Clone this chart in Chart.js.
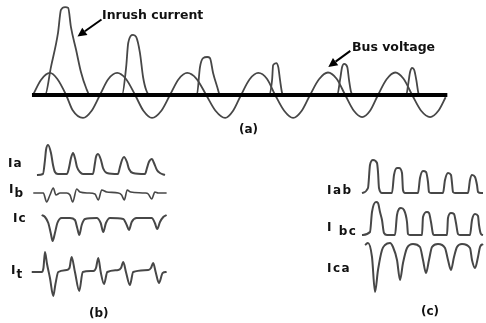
<!DOCTYPE html>
<html>
<head>
<meta charset="utf-8">
<script src="https://cdn.jsdelivr.net/npm/chart.js@4.4.1/dist/chart.umd.min.js"></script>
<style>
  body { margin: 0; background: #fff; }
  #wrap { position: relative; width: 486px; height: 323px; overflow: hidden; }
  #plot { position: absolute; left: 0; top: 0; }
  .lbl {
    position: absolute; font-family: "DejaVu Sans", Verdana, sans-serif; font-weight: bold;
    font-size: 12px; line-height: 12px; color: #111; white-space: nowrap; transform: translateY(-50%);
  }
  .sub { position: relative; top: 4px; }
</style>
</head>
<body>
<div id="wrap">
  <canvas id="plot" width="486" height="323"></canvas>
  <div class="lbl" style="left:102px;top:15px;font-size:12.5px">Inrush current</div>
  <div class="lbl" style="left:352px;top:47px;font-size:12.5px">Bus voltage</div>
  <div class="lbl" style="left:239px;top:129px">(a)</div>
  <div class="lbl" style="left:8px;top:163px;letter-spacing:1px">Ia</div>
  <div class="lbl" style="left:9px;top:189px;letter-spacing:1px">I<span class="sub">b</span></div>
  <div class="lbl" style="left:13px;top:218px;letter-spacing:1px">Ic</div>
  <div class="lbl" style="left:11px;top:270px;letter-spacing:1px">I<span class="sub">t</span></div>
  <div class="lbl" style="left:89px;top:313px">(b)</div>
  <div class="lbl" style="left:327px;top:190px;letter-spacing:1.5px">Iab</div>
  <div class="lbl" style="left:327px;top:227px;letter-spacing:1.5px">I <span class="sub">bc</span></div>
  <div class="lbl" style="left:327px;top:268px;letter-spacing:1.5px">Ica</div>
  <div class="lbl" style="left:421px;top:311px">(c)</div>
</div>
<script>
// (a) time in ms, amplitude in per-unit of the bus voltage peak
const busVoltage = [
  [0,0],[2.3,0.67],[4.9,0.98],[7.0,0.72],[9.6,0],[11.5,-0.68],[14.5,-1.02],[17.0,-0.7],
  [19.4,0],[21.8,0.7],[24.4,0.98],[26.9,0.72],[29.6,0],[32.0,-0.7],[34.5,-1.02],[37.2,-0.7],
  [39.7,0],[42.2,0.7],[44.7,0.98],[47.4,0.72],[50.2,0],[52.9,-0.7],[55.7,-1.02],[58.0,-0.7],
  [60.3,0],[62.8,0.7],[65.3,0.98],[67.8,0.72],[70.2,0],[72.8,-0.7],[75.4,-1.02],[77.9,-0.7],
  [80.3,0],[82.9,0.7],[85.5,1.0],[88.0,0.72],[90.5,0],[93.0,-0.7],[95.4,-0.98],[97.7,-0.7],
  [100.0,0],[102.5,0.7],[105.0,1.0],[107.4,0.72],[109.9,0],[112.5,-0.7],[115.1,-0.98],[117.5,-0.7],
  [119.6,-0.1]
];
const inrushCurrent = [
  [0,0],[3.5,0],[5.2,1.24],[7.25,2.76],[8.1,3.78],[9.3,3.91],[10.2,3.87],[11.0,3.02],[12.5,2.0],[13.9,1.02],[15.4,0.31],[16.5,0],
  [25.8,0],[27.0,1.24],[27.6,2.31],[29.0,2.67],[29.9,2.58],[31.0,1.87],[31.9,0.8],[32.8,0.22],[33.9,0],
  [47.5,0],[48.4,1.24],[49.3,1.64],[50.5,1.69],[51.3,1.64],[52.2,0.98],[53.4,0.36],[54.2,0],
  [68.4,0],[69.3,0.67],[69.6,1.33],[70.5,1.42],[71.1,1.24],[71.6,0.67],[72.2,0.09],[72.5,0],
  [88.2,0],[89.0,0.67],[89.6,1.24],[90.2,1.38],[91.1,1.24],[91.6,0.67],[92.2,0.13],[92.8,0],
  [108.2,0],[108.8,0.53],[109.3,1.02],[109.9,1.2],[110.5,1.11],[111.1,0.67],[111.7,0.09],[111.9,0],
  [120.0,0]
];
const zeroLine = [[-0.3,0],[120.1,0]];

// (b) phase currents of the transformer, time in ms
const iaCurrent = [
  [3.1,0],[7.8,0.1],[9.4,1.5],[10.2,2.5],[11.8,3.0],[14.1,2.2],[15.7,1.0],[17.2,0.3],[19.6,0.1],
  [26.7,0.1],[28.2,0.7],[29.8,1.7],[31.4,2.2],[32.9,1.7],[34.5,0.8],[36.8,0.3],[39.2,0.1],
  [47.0,0.1],[48.6,1.2],[49.4,1.8],[51.0,2.1],[53.3,1.5],[54.9,0.7],[58.0,0.2],
  [66.6,0.1],[68.2,0.8],[69.8,1.5],[71.3,1.8],[73.7,1.3],[75.3,0.6],[78.4,0.2],
  [87.8,0.1],[89.4,0.7],[90.9,1.3],[93.3,1.6],[94.9,1.2],[97.2,0.5],[99.6,0.2],[103.5,0]
];
const ibCurrent = [
  [0.2,0],[8.1,0],[10.7,-0.9],[13.3,-0.2],[15.9,0.5],[18.0,-0.2],[21.2,0],
  [26.4,0],[29.0,-0.2],[31.1,-0.9],[34.3,0.4],[36.8,0.1],[43.4,0],
  [48.6,-0.1],[51.2,-0.7],[53.9,0.3],[57.8,0.1],[66.9,0],
  [69.5,-0.2],[71.6,-0.7],[73.9,0.3],[76.6,0.1],[87.8,0],
  [90.4,-0.1],[93.1,-0.6],[95.6,0.1],[98.2,0],[104.8,0]
];
const icCurrent = [
  [6.8,0.3],[9.4,0.1],[12.0,-0.5],[13.9,-1.5],[15.4,-2.3],[17.2,-1.5],[19.1,-0.5],[22.5,0],
  [29.0,0],[32.9,-0.2],[34.7,-1.0],[36.3,-1.7],[38.2,-0.7],[40.8,-0.1],
  [49.9,0],[53.1,-0.5],[55.1,-1.4],[57.2,-0.5],[60.4,0],
  [70.8,-0.1],[73.5,-0.7],[75.3,-1.2],[77.4,-0.4],[81.3,0],
  [93.1,0],[95.6,-0.5],[97.4,-1.1],[99.6,-0.4],[102.2,0.1],[104.8,0.3]
];
const itCurrent = [
  [-1.0,0],[6.8,0],[8.2,0.4],[9.4,2.0],[11.0,0.8],[13.3,-0.6],[15.9,-2.4],[17.6,-1.2],[19.8,0],
  [26.4,0.2],[28.6,0.4],[30.3,1.5],[32.9,0],[36.3,-1.9],[39.0,0],
  [47.3,0.1],[49.4,0.4],[51.2,1.4],[53.1,0],[55.7,-1.2],[58.3,0],
  [66.9,0.2],[69.0,0.4],[70.8,1.0],[72.9,0],[76.0,-1.3],[78.6,0],
  [90.4,0.2],[92.5,0.4],[94.3,0.9],[96.2,0],[98.8,-1.1],[101.7,-0.1],[104.8,0]
];

// (c) line currents, time in ms
const iabCurrent = [
  [0,0],[4.8,0.5],[6.4,2.8],[8.8,3.3],[12.0,3.0],[12.8,2.1],[13.6,0.5],[16.0,0],
  [24.0,0],[25.6,1.8],[28.0,2.5],[29.6,2.5],[32.0,2.0],[32.8,0.3],[34.4,0],
  [44.8,0],[46.4,1.5],[48.8,2.2],[51.2,2.1],[52.8,1.1],[53.6,0.1],[55.2,0],
  [64.8,0],[66.4,1.3],[68.8,2.0],[71.2,1.8],[72.0,1.0],[72.8,0.1],[74.4,0],
  [84.8,0],[86.4,1.3],[88.0,1.8],[90.4,1.6],[92.0,0.8],[92.8,0.1],[95.2,0],[96.8,0]
];
const ibcCurrent = [
  [0,0],[6.4,0.3],[8.0,2.3],[11.2,3.3],[12.8,3.2],[14.4,2.3],[16.0,1.5],[17.6,0.2],[20.0,0],
  [26.4,0],[28.0,2.0],[31.2,2.7],[33.6,2.5],[36.0,1.3],[36.8,0.1],[38.4,0],
  [48.0,0],[48.8,1.8],[52.0,2.3],[53.6,2.2],[55.2,1.3],[56.8,0.1],[57.6,0],
  [68.0,0],[68.8,1.7],[71.2,2.2],[73.6,2.1],[75.2,1.2],[76.8,0.1],[78.4,0],
  [86.4,0],[88.0,1.5],[90.4,2.1],[92.8,1.9],[93.6,1.0],[95.2,0.1],[96.8,0]
];
const icaCurrent = [
  [2.4,-0.1],[4.8,0.1],[8.0,-1.3],[10.4,-4.8],[12.8,-2.6],[16.0,-0.6],[18.4,-0.1],
  [22.4,0.1],[24.8,-0.3],[28.0,-1.6],[30.4,-3.6],[32.8,-1.9],[36.0,-0.4],
  [40.8,0],[46.4,-0.3],[48.8,-1.6],[51.2,-2.9],[53.6,-1.6],[56.0,-0.3],
  [60.8,0],[66.4,-0.4],[68.8,-1.6],[71.2,-2.6],[73.6,-1.3],[76.0,-0.3],
  [80.0,0],[86.4,-0.4],[88.0,-1.6],[90.4,-2.4],[92.8,-1.3],[94.4,-0.3],[96.8,0]
];

const W = 486, H = 323;

// hidden linear scales: origin = pixel where value 0 sits, ppu = pixels per unit
function xBand(origin, ppu) {
  return { type: 'linear', display: false, min: -origin / ppu, max: (W - origin) / ppu };
}
function yBand(origin, ppu) {
  return { type: 'linear', display: false, min: (origin - H) / ppu, max: origin / ppu };
}

function toXY(rows) {
  return rows.map(r => ({ x: r[0], y: r[1] }));
}

const traceColor = '#474747';

function trace(rows, xId, yId, width) {
  return {
    data: toXY(rows),
    xAxisID: xId,
    yAxisID: yId,
    borderColor: traceColor,
    borderWidth: width || 1.8,
    cubicInterpolationMode: 'monotone',
    pointRadius: 0,
    fill: false,
    order: 1
  };
}

// arrows from the labels in (a) to their curves
const arrowPlugin = {
  id: 'arrows',
  afterDatasetsDraw(chart) {
    const ctx = chart.ctx;
    const xs = chart.scales.xa, ys = chart.scales.ya;
    const arrows = [
      { tip: [12.9, 2.6], dx: 24, dy: -17 },
      { tip: [85.6, 1.25], dx: 22, dy: -16 }
    ];
    ctx.save();
    ctx.strokeStyle = '#000';
    ctx.fillStyle = '#000';
    ctx.lineWidth = 2;
    arrows.forEach(a => {
      const tx = xs.getPixelForValue(a.tip[0]);
      const ty = ys.getPixelForValue(a.tip[1]);
      const sx = tx + a.dx, sy = ty + a.dy;
      const ang = Math.atan2(ty - sy, tx - sx);
      const len = 9, half = 4.5;
      const bx = tx - len * Math.cos(ang), by = ty - len * Math.sin(ang);
      ctx.beginPath();
      ctx.moveTo(sx, sy);
      ctx.lineTo(bx, by);
      ctx.stroke();
      ctx.beginPath();
      ctx.moveTo(tx, ty);
      ctx.lineTo(bx + half * Math.sin(ang), by - half * Math.cos(ang));
      ctx.lineTo(bx - half * Math.sin(ang), by + half * Math.cos(ang));
      ctx.closePath();
      ctx.fill();
    });
    ctx.restore();
  }
};

// the thick zero line of (a) is drawn on top of the traces
const zeroSet = trace(zeroLine, 'xa', 'ya', 4);
zeroSet.borderColor = '#000';
zeroSet.cubicInterpolationMode = 'default';
zeroSet.tension = 0;
zeroSet.order = 0;

new Chart(document.getElementById('plot').getContext('2d'), {
  type: 'line',
  data: {
    datasets: [
      trace(busVoltage, 'xa', 'ya'),
      trace(inrushCurrent, 'xa', 'ya'),
      zeroSet,
      trace(iaCurrent, 'xb', 'yIa', 2),
      trace(ibCurrent, 'xb', 'yIb', 1.6),
      trace(icCurrent, 'xb', 'yIc', 2),
      trace(itCurrent, 'xb', 'yIt', 2),
      trace(iabCurrent, 'xc', 'yIab', 2),
      trace(ibcCurrent, 'xc', 'yIbc', 2),
      trace(icaCurrent, 'xc', 'yIca', 2)
    ]
  },
  options: {
    responsive: false,
    animation: false,
    devicePixelRatio: 1,
    layout: { padding: 0 },
    plugins: { legend: { display: false }, tooltip: { enabled: false } },
    scales: {
      xa: xBand(33, 69 / 20),
      ya: yBand(95, 22.5),
      xb: xBand(33, 25.5 / 20),
      yIa: yBand(175, 10),
      yIb: yBand(193, 10),
      yIc: yBand(218, 10),
      yIt: yBand(272, 10),
      xc: xBand(362, 25 / 20),
      yIab: yBand(193, 10),
      yIbc: yBand(235, 10),
      yIca: yBand(244, 10)
    }
  },
  plugins: [arrowPlugin]
});
</script>
</body>
</html>
